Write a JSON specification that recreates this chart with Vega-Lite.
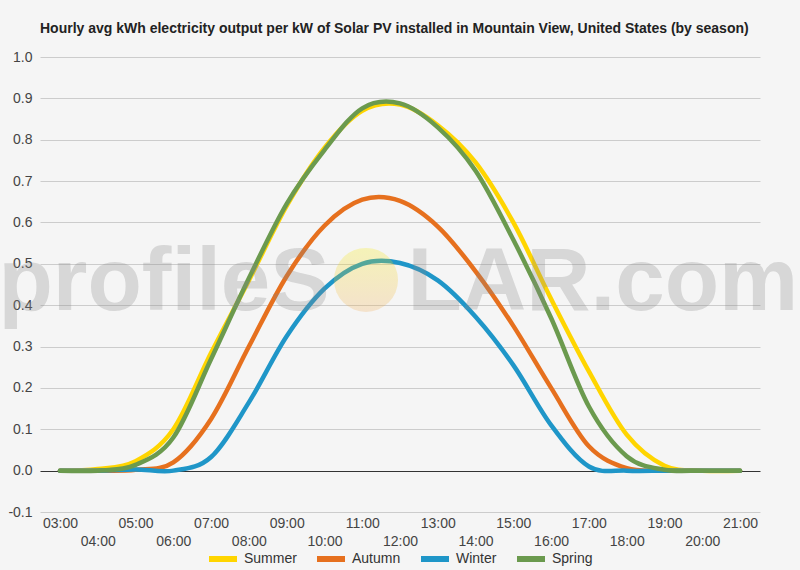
{
  "$schema": "https://vega.github.io/schema/vega-lite/v6.json",
  "width": 720,
  "height": 455,
  "autosize": {"type": "none"},
  "padding": {"left": 40, "top": 57, "right": 40, "bottom": 58},
  "background": "#f5f5f5",
  "config": {
    "font": "Liberation Sans",
    "view": {"stroke": null},
    "axis": {"labelOverlap": false, "labelFlush": false, "domain": false, "ticks": false, "title": null},
    "axisX": {"grid": false, "labelBaseline": "top", "labelFontSize": 14, "labelColor": "#444444"},
    "axisY": {"labelPadding": 8, "labelFontSize": 14, "labelColor": "#444444"}
  },
  "title": {
    "text": "Hourly avg kWh electricity output per kW of Solar PV installed in Mountain View, United States (by season)",
    "anchor": "start",
    "frame": "group",
    "fontSize": 14,
    "fontWeight": "bold",
    "color": "#222222",
    "offset": 14
  },
  "data": {
    "values": [
      {"hour": 3, "season": "Summer", "kwh": 0},
      {"hour": 4, "season": "Summer", "kwh": 0.004},
      {"hour": 5, "season": "Summer", "kwh": 0.023},
      {"hour": 6, "season": "Summer", "kwh": 0.1},
      {"hour": 7, "season": "Summer", "kwh": 0.285},
      {"hour": 8, "season": "Summer", "kwh": 0.46},
      {"hour": 9, "season": "Summer", "kwh": 0.64},
      {"hour": 10, "season": "Summer", "kwh": 0.78},
      {"hour": 11, "season": "Summer", "kwh": 0.87},
      {"hour": 12, "season": "Summer", "kwh": 0.885},
      {"hour": 13, "season": "Summer", "kwh": 0.835},
      {"hour": 14, "season": "Summer", "kwh": 0.745},
      {"hour": 15, "season": "Summer", "kwh": 0.6},
      {"hour": 16, "season": "Summer", "kwh": 0.415},
      {"hour": 17, "season": "Summer", "kwh": 0.24},
      {"hour": 18, "season": "Summer", "kwh": 0.087},
      {"hour": 19, "season": "Summer", "kwh": 0.012},
      {"hour": 20, "season": "Summer", "kwh": 0},
      {"hour": 21, "season": "Summer", "kwh": 0},
      {"hour": 3, "season": "Autumn", "kwh": 0},
      {"hour": 4, "season": "Autumn", "kwh": 0},
      {"hour": 5, "season": "Autumn", "kwh": 0.002},
      {"hour": 6, "season": "Autumn", "kwh": 0.02},
      {"hour": 7, "season": "Autumn", "kwh": 0.125},
      {"hour": 8, "season": "Autumn", "kwh": 0.3},
      {"hour": 9, "season": "Autumn", "kwh": 0.47},
      {"hour": 10, "season": "Autumn", "kwh": 0.592},
      {"hour": 11, "season": "Autumn", "kwh": 0.655},
      {"hour": 12, "season": "Autumn", "kwh": 0.652},
      {"hour": 13, "season": "Autumn", "kwh": 0.59},
      {"hour": 14, "season": "Autumn", "kwh": 0.482},
      {"hour": 15, "season": "Autumn", "kwh": 0.35},
      {"hour": 16, "season": "Autumn", "kwh": 0.2},
      {"hour": 17, "season": "Autumn", "kwh": 0.059},
      {"hour": 18, "season": "Autumn", "kwh": 0.006},
      {"hour": 19, "season": "Autumn", "kwh": 0},
      {"hour": 20, "season": "Autumn", "kwh": 0},
      {"hour": 21, "season": "Autumn", "kwh": 0},
      {"hour": 3, "season": "Winter", "kwh": 0},
      {"hour": 4, "season": "Winter", "kwh": 0},
      {"hour": 5, "season": "Winter", "kwh": 0.003},
      {"hour": 6, "season": "Winter", "kwh": 0},
      {"hour": 7, "season": "Winter", "kwh": 0.033},
      {"hour": 8, "season": "Winter", "kwh": 0.165},
      {"hour": 9, "season": "Winter", "kwh": 0.325},
      {"hour": 10, "season": "Winter", "kwh": 0.44},
      {"hour": 11, "season": "Winter", "kwh": 0.5},
      {"hour": 12, "season": "Winter", "kwh": 0.502},
      {"hour": 13, "season": "Winter", "kwh": 0.46},
      {"hour": 14, "season": "Winter", "kwh": 0.372},
      {"hour": 15, "season": "Winter", "kwh": 0.255},
      {"hour": 16, "season": "Winter", "kwh": 0.11},
      {"hour": 17, "season": "Winter", "kwh": 0.01},
      {"hour": 18, "season": "Winter", "kwh": 0},
      {"hour": 19, "season": "Winter", "kwh": 0},
      {"hour": 20, "season": "Winter", "kwh": 0},
      {"hour": 21, "season": "Winter", "kwh": 0},
      {"hour": 3, "season": "Spring", "kwh": 0},
      {"hour": 4, "season": "Spring", "kwh": 0},
      {"hour": 5, "season": "Spring", "kwh": 0.014},
      {"hour": 6, "season": "Spring", "kwh": 0.08},
      {"hour": 7, "season": "Spring", "kwh": 0.27},
      {"hour": 8, "season": "Spring", "kwh": 0.465},
      {"hour": 9, "season": "Spring", "kwh": 0.645},
      {"hour": 10, "season": "Spring", "kwh": 0.775},
      {"hour": 11, "season": "Spring", "kwh": 0.876},
      {"hour": 12, "season": "Spring", "kwh": 0.888},
      {"hour": 13, "season": "Spring", "kwh": 0.83},
      {"hour": 14, "season": "Spring", "kwh": 0.725},
      {"hour": 15, "season": "Spring", "kwh": 0.558},
      {"hour": 16, "season": "Spring", "kwh": 0.369},
      {"hour": 17, "season": "Spring", "kwh": 0.155},
      {"hour": 18, "season": "Spring", "kwh": 0.035},
      {"hour": 19, "season": "Spring", "kwh": 0.002},
      {"hour": 20, "season": "Spring", "kwh": 0},
      {"hour": 21, "season": "Spring", "kwh": 0}
    ]
  },
  "layer": [
    {
      "mark": {"type": "line", "interpolate": "cardinal", "strokeWidth": 4.5, "strokeCap": "round"},
      "encoding": {
        "x": {
          "field": "hour",
          "type": "quantitative",
          "title": null,
          "scale": {"domain": [2.4706, 21.5294], "nice": false, "zero": false},
          "axis": {
            "values": [3, 4, 5, 6, 7, 8, 9, 10, 11, 12, 13, 14, 15, 16, 17, 18, 19, 20, 21],
            "labelOverlap": false,
            "labelFlush": false,
            "labelPadding": {"condition": {"test": "datum.value % 2 == 0", "value": 22}, "value": 4},
            "labelExpr": "(datum.value < 10 ? '0' : '') + datum.value + ':00'"
          }
        },
        "y": {
          "field": "kwh",
          "type": "quantitative",
          "title": null,
          "scale": {"domain": [-0.1, 1.0], "nice": false, "zero": false},
          "axis": {
            "values": [-0.1, -0.05, 0, 0.05, 0.1, 0.15, 0.2, 0.25, 0.3, 0.35, 0.4, 0.45, 0.5, 0.55, 0.6, 0.65, 0.7, 0.75, 0.8, 0.85, 0.9, 0.95, 1.0],
            "labelOverlap": false,
            "labelExpr": "abs(round(datum.value * 20)) % 2 == 1 ? '' : replace(format(datum.value, '.1f'), '\u2212', '-')",
            "gridColor": {
              "condition": [
                {"test": "abs(datum.value) < 0.001", "value": "#333333"},
                {"test": "abs(round(datum.value * 20)) % 2 == 1", "value": "#e4e4e4"}
              ],
              "value": "#cccccc"
            }
          }
        },
        "color": {
          "field": "season",
          "type": "nominal",
          "sort": ["Summer", "Autumn", "Winter", "Spring"],
          "scale": {
            "domain": ["Summer", "Autumn", "Winter", "Spring"],
            "range": ["#ffd500", "#e6701e", "#1f96c8", "#6b9a4e"]
          },
          "legend": {
            "title": null,
            "orient": "none",
            "legendX": 166,
            "legendY": 485,
            "direction": "horizontal",
            "symbolType": "stroke",
            "symbolSize": 784,
            "symbolStrokeWidth": 6,
            "labelFontSize": 14,
            "labelColor": "#333333",
            "labelOffset": 4,
            "columnPadding": 8,
            "gridAlign": "none"
          }
        }
      }
    },
    {
      "data": {"values": [{"label": "profileS"}]},
      "mark": {"type": "text", "align": "right", "baseline": "alphabetic", "fontSize": 89, "fontWeight": "bold", "fill": "#888888", "fillOpacity": 0.28},
      "encoding": {
        "x": {
          "datum": 10.14,
          "type": "quantitative",
          "axis": {
            "values": [3, 4, 5, 6, 7, 8, 9, 10, 11, 12, 13, 14, 15, 16, 17, 18, 19, 20, 21],
            "labelOverlap": false,
            "labelFlush": false,
            "labelPadding": {"condition": {"test": "datum.value % 2 == 0", "value": 22}, "value": 4},
            "labelExpr": "(datum.value < 10 ? '0' : '') + datum.value + ':00'"
          }
        },
        "y": {"datum": 0.389, "type": "quantitative"},
        "text": {"field": "label", "type": "nominal"}
      }
    },
    {
      "data": {"values": [{"label": "LAR.com"}]},
      "mark": {"type": "text", "align": "left", "baseline": "alphabetic", "fontSize": 89, "fontWeight": "bold", "fill": "#888888", "fillOpacity": 0.28},
      "encoding": {
        "x": {
          "datum": 12.2,
          "type": "quantitative",
          "axis": {
            "values": [3, 4, 5, 6, 7, 8, 9, 10, 11, 12, 13, 14, 15, 16, 17, 18, 19, 20, 21],
            "labelOverlap": false,
            "labelFlush": false,
            "labelPadding": {"condition": {"test": "datum.value % 2 == 0", "value": 22}, "value": 4},
            "labelExpr": "(datum.value < 10 ? '0' : '') + datum.value + ':00'"
          }
        },
        "y": {"datum": 0.389, "type": "quantitative"},
        "text": {"field": "label", "type": "nominal"}
      }
    },
    {
      "data": {"values": [{"label": "O"}]},
      "mark": {
        "type": "point",
        "shape": "circle",
        "filled": true,
        "size": 4100,
        "strokeWidth": 0,
        "fillOpacity": 0.25,
        "fill": {
          "gradient": "linear",
          "x1": 0, "y1": 0, "x2": 0, "y2": 1,
          "stops": [
            {"offset": 0, "color": "#f5ea00"},
            {"offset": 1, "color": "#f0a850"}
          ]
        }
      },
      "encoding": {
        "x": {
          "datum": 11.1,
          "type": "quantitative",
          "axis": {
            "values": [3, 4, 5, 6, 7, 8, 9, 10, 11, 12, 13, 14, 15, 16, 17, 18, 19, 20, 21],
            "labelOverlap": false,
            "labelFlush": false,
            "labelPadding": {"condition": {"test": "datum.value % 2 == 0", "value": 22}, "value": 4},
            "labelExpr": "(datum.value < 10 ? '0' : '') + datum.value + ':00'"
          }
        },
        "y": {"datum": 0.461, "type": "quantitative"}
      }
    }
  ]
}
